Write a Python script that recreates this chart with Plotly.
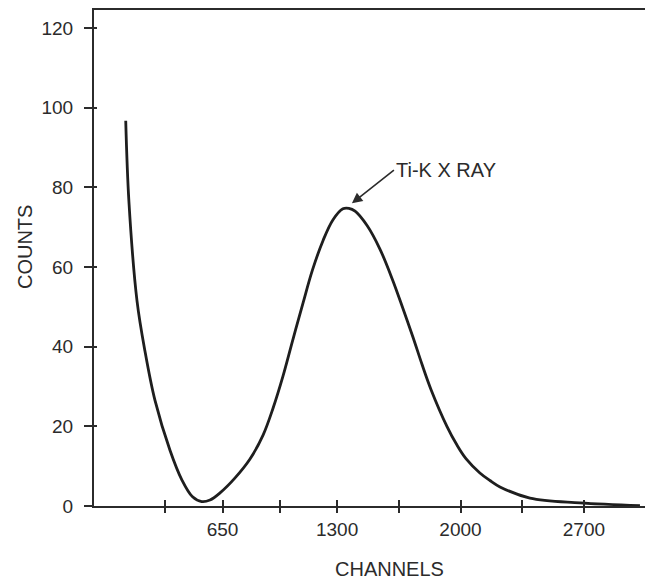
import plotly.graph_objects as go

# Data
channels = [101, 119, 165, 210, 267, 352, 420, 480, 532, 579, 636, 720, 806, 880,
            937, 993, 1050, 1107, 1160, 1220, 1276, 1333, 1367, 1402, 1470, 1543,
            1617, 1674, 1731, 1782, 1833, 1923, 1980, 2031, 2110, 2167, 2224,
            2394, 2678, 3018]
counts = [96.7, 76.5, 51.5, 38.9, 26.5, 14.0, 6.5, 2.3, 1.1, 1.5, 3.3, 7.0, 11.8, 17.8,
          24.6, 32.6, 41.9, 51.0, 59.2, 66.6, 71.8, 74.6, 74.7, 74.0, 70.4, 64.5,
          56.5, 49.5, 42.3, 35.5, 29.2, 20.0, 15.3, 11.9, 8.3, 6.4, 4.8,
          2.0, 0.8, 0.1]

x_ticks = [325, 650, 975, 1300, 1650, 2000, 2350, 2700, 3050]
x_tick_text = ["", "650", "", "1300", "", "2000", "", "2700", ""]
y_ticks = [0, 20, 40, 60, 80, 100, 120]

peak_label = "Ti-K X RAY"
peak_channel = 1384
peak_count = 76

x_range = [-79, 3092]
y_range = [0, 124.5]

ink = "#2b2b2b"
font_family = "Liberation Sans, Arial, Helvetica, sans-serif"

# figure is placed 8px from the page's top-left corner by the page body margin
W, H = 645, 572
L, R, T, B = 86, 0, 0, 74
plot_w = W - L - R
plot_h = H - T - B


def paper_x(px):
    return (px - 8 - L) / plot_w


def paper_y(py):
    return (H - B - (py - 8)) / plot_h


fig = go.Figure()
fig.add_trace(go.Scatter(
    x=channels, y=counts, mode="lines",
    line=dict(color="#1e1e1e", width=2.8, shape="spline", smoothing=1.0),
    hoverinfo="skip", showlegend=False,
))
# empty trace to activate the overlay axes used for the inner half of tick marks
fig.add_trace(go.Scatter(x=[], y=[], xaxis="x2", yaxis="y2", showlegend=False))

fig.update_layout(
    width=W, height=H, autosize=False,
    margin=dict(l=L, r=R, t=T, b=B, pad=0),
    paper_bgcolor="white", plot_bgcolor="white",
    font=dict(family=font_family, size=19, color=ink),
    showlegend=False,
    xaxis=dict(
        range=x_range, tickvals=x_ticks, ticktext=x_tick_text,
        ticks="outside", ticklen=5, tickwidth=2, tickcolor=ink,
        showline=True, linewidth=2, linecolor=ink, mirror=True,
        showgrid=False, zeroline=False,
        tickfont=dict(size=19, color=ink),
    ),
    yaxis=dict(
        range=y_range, tickvals=y_ticks,
        ticks="outside", ticklen=8, tickwidth=2, tickcolor=ink,
        ticklabelstandoff=7,
        showline=True, linewidth=2, linecolor=ink, mirror=False,
        showgrid=False, zeroline=False,
        tickfont=dict(size=19, color=ink),
    ),
    xaxis2=dict(
        range=x_range, tickvals=x_ticks, overlaying="x", anchor="y2",
        ticks="inside", ticklen=6, tickwidth=2, tickcolor=ink,
        showticklabels=False, showline=False, showgrid=False, zeroline=False,
    ),
    yaxis2=dict(
        range=y_range, tickvals=y_ticks, overlaying="y", anchor="x2",
        ticks="inside", ticklen=3, tickwidth=2, tickcolor=ink,
        showticklabels=False, showline=False, showgrid=False, zeroline=False,
    ),
    annotations=[
        dict(x=peak_channel, y=peak_count, xref="x", yref="y",
             text=peak_label, showarrow=True, ax=42, ay=-33,
             xanchor="left", yanchor="middle",
             arrowhead=2, arrowsize=1.3, arrowwidth=1.6, arrowcolor=ink,
             font=dict(size=20, color=ink)),
        dict(x=paper_x(389), y=paper_y(569), xref="paper", yref="paper",
             text="CHANNELS", showarrow=False, xanchor="center", yanchor="middle",
             font=dict(size=20, color=ink)),
        dict(x=paper_x(25), y=paper_y(246), xref="paper", yref="paper",
             text="COUNTS", showarrow=False, textangle=-90,
             xanchor="center", yanchor="middle",
             font=dict(size=20, color=ink)),
    ],
)

fig.write_html("out.html")
